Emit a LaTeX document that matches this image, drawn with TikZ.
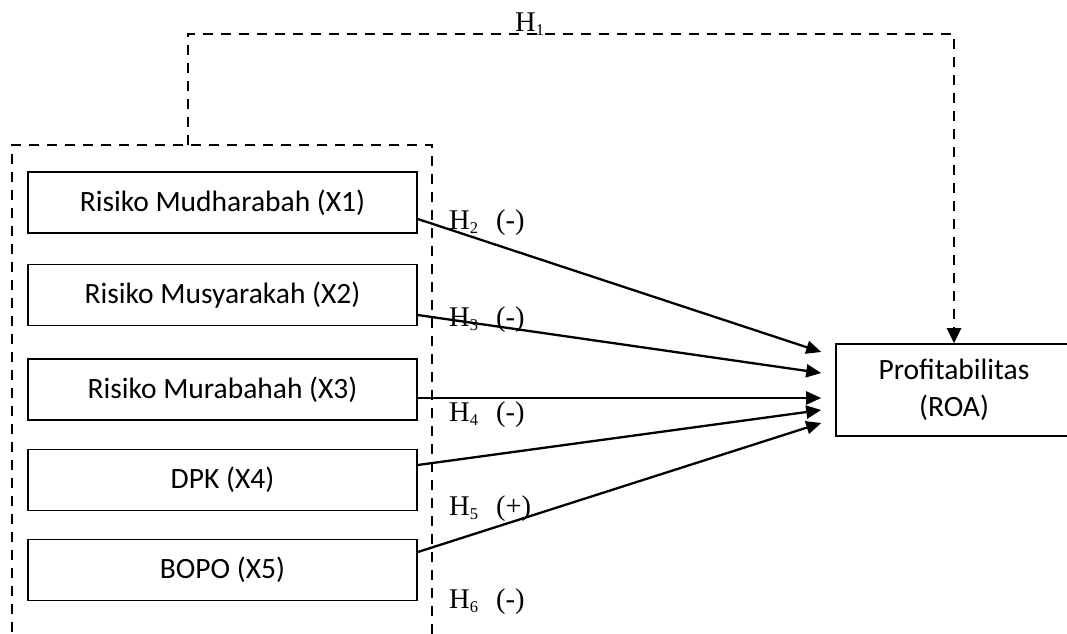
\documentclass[tikz,border=0pt]{standalone}
\usepackage{fontspec}
\setmainfont{Carlito}
\newfontfamily\hfont{Liberation Serif}
\usetikzlibrary{arrows.meta}

% hypothesis label: H with subscript, then sign
\newcommand{\hyp}[2]{{\hfont H\raisebox{-4pt}{\fontsize{16.5}{16.5}\selectfont #1}\ifx&#2&\else\hspace{18pt}(#2)\fi}}

\begin{document}
\begin{tikzpicture}[x=1pt,y=-1pt,
  varbox/.style={draw,line width=1.6pt,minimum width=389pt,minimum height=61pt,
                 inner sep=0pt,font=\fontsize{29.5}{37}\selectfont},
  target/.style={draw,line width=1.6pt,minimum width=236pt,minimum height=92pt,
                 inner sep=0pt,align=center,font=\fontsize{29.5}{37}\selectfont},
  effect/.style={line width=2.3pt,-{Triangle[length=15pt,width=13pt]}},
  groupline/.style={line width=2.5pt,dash pattern=on 10pt off 8pt},
  hlabel/.style={anchor=base west,inner sep=0pt,font=\fontsize{28.5}{28.5}\selectfont}]

\useasboundingbox (0,0) rectangle (1067,633);

% independent variables
\node[varbox] (b1) at (222.5,202.5) {Risiko Mudharabah (X1)};
\node[varbox] (b2) at (222.5,295)   {Risiko Musyarakah (X2)};
\node[varbox] (b3) at (222.5,389.5) {Risiko Murabahah (X3)};
\node[varbox] (b4) at (222.5,480)   {DPK (X4)};
\node[varbox] (b5) at (222.5,570)   {BOPO (X5)};

% dependent variable
\node[target] (p) at (954,390) {Profitabilitas\\(ROA)};

% dashed frame around the independent variables (runs off the bottom edge)
\draw[groupline] (12,650) -- (12,145) -- (432,145) -- (432,650);

% simultaneous effect H1
\coordinate (grp) at (188,145);
\coordinate (corner) at (954,34);
\draw[groupline,-{Triangle[length=15pt,width=14pt]}] (grp) |- (corner) -- (p.north);
\node[hlabel] (h1) at (515,31) {\hyp{1}{}};

% partial effects H2--H6
\coordinate (t1) at ([xshift=-14pt,yshift=38pt]p.west);
\coordinate (t2) at ([xshift=-14pt,yshift=17pt]p.west);
\coordinate (t3) at ([xshift=-14pt,yshift=-8pt]p.west);
\coordinate (t4) at ([xshift=-14pt,yshift=-20pt]p.west);
\coordinate (t5) at ([xshift=-14pt,yshift=-33pt]p.west);

\draw[effect] ([yshift=-16.5pt]b1.east) -- (t1);
\draw[effect] ([yshift=-20pt]b2.east) -- (t2);
\draw[effect] (b3.east |- t3) -- (t3);
\draw[effect] ([yshift=15pt]b4.east) -- (t4);
\draw[effect] ([yshift=18pt]b5.east) -- (t5);

\node[hlabel] (h2) at (449,229) {\hyp{2}{-}};
\node[hlabel] (h3) at (449,326) {\hyp{3}{-}};
\node[hlabel] (h4) at (449,421) {\hyp{4}{-}};
\node[hlabel] (h5) at (449,515) {\hyp{5}{+}};
\node[hlabel] (h6) at (449,608) {\hyp{6}{-}};

\end{tikzpicture}
\end{document}
